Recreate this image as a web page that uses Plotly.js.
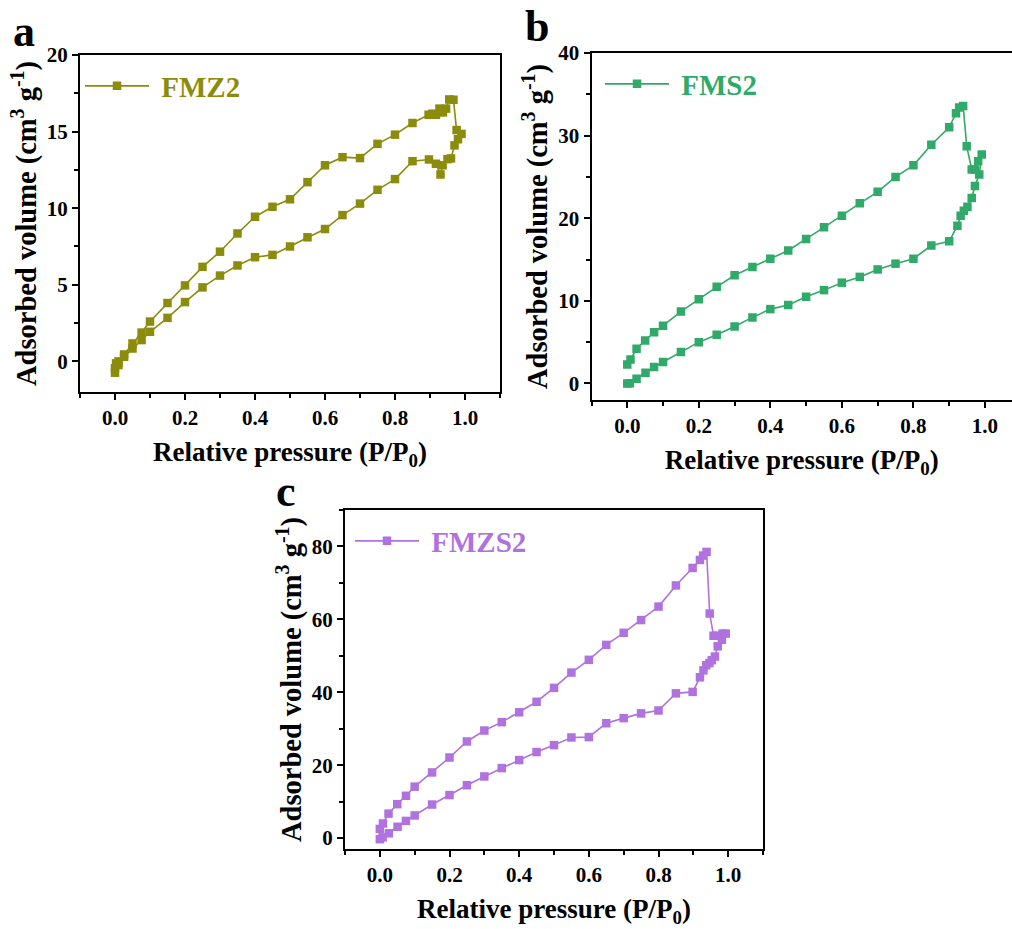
<!DOCTYPE html>
<html>
<head>
<meta charset="utf-8">
<script src="https://cdn.plot.ly/plotly-3.0.1.min.js"></script>
<style>html,body{margin:0;padding:0;background:#fff;}#chart{width:1012px;height:929px;}</style>
</head>
<body>
<div id="chart"></div>
<script>
// ---- Panel a: FMZ2 ----
var aAdsX = [0.000, 0.010, 0.026, 0.050, 0.076, 0.100, 0.150, 0.200, 0.250, 0.300, 0.350, 0.400, 0.450, 0.500, 0.550, 0.600, 0.650, 0.700, 0.750, 0.800, 0.850, 0.897, 0.917, 0.930, 0.936, 0.950, 0.960, 0.970, 0.980, 0.990];
var aAdsY = [-0.74, -0.24, 0.30, 0.84, 1.39, 1.93, 2.84, 3.87, 4.83, 5.60, 6.26, 6.80, 6.95, 7.50, 8.10, 8.64, 9.55, 10.30, 11.20, 11.90, 13.07, 13.18, 12.90, 12.20, 12.80, 13.20, 13.25, 14.10, 14.50, 14.85];
var aDesX = [0.976, 0.967, 0.955, 0.946, 0.937, 0.927, 0.917, 0.907, 0.896, 0.850, 0.800, 0.750, 0.700, 0.650, 0.600, 0.550, 0.500, 0.450, 0.400, 0.350, 0.300, 0.250, 0.200, 0.150, 0.100, 0.076, 0.050, 0.026, 0.010, 0.003, 0.000];
var aDesY = [15.10, 17.08, 17.10, 16.50, 16.25, 16.50, 16.10, 16.17, 16.10, 15.56, 14.80, 14.20, 13.27, 13.33, 12.80, 11.70, 10.58, 10.09, 9.44, 8.35, 7.16, 6.17, 4.96, 3.81, 2.60, 1.88, 1.17, 0.45, 0.00, -0.13, -0.45];

// ---- Panel b: FMS2 ----
var bAdsX = [0.000, 0.007, 0.026, 0.051, 0.075, 0.100, 0.150, 0.200, 0.250, 0.300, 0.350, 0.400, 0.450, 0.500, 0.550, 0.600, 0.650, 0.700, 0.750, 0.800, 0.850, 0.900, 0.923, 0.932, 0.941, 0.951, 0.963, 0.972, 0.984, 0.991];
var bAdsY = [0.0, 0.04, 0.57, 1.3, 2.0, 2.6, 3.8, 5.0, 5.9, 6.9, 8.0, 9.0, 9.5, 10.5, 11.3, 12.2, 12.9, 13.8, 14.5, 15.1, 16.7, 17.2, 19.1, 20.3, 20.9, 21.4, 22.45, 23.9, 25.3, 27.7];
var bDesX = [0.981, 0.972, 0.963, 0.949, 0.939, 0.928, 0.919, 0.900, 0.850, 0.800, 0.750, 0.700, 0.650, 0.600, 0.550, 0.500, 0.450, 0.400, 0.350, 0.300, 0.250, 0.200, 0.150, 0.100, 0.075, 0.050, 0.026, 0.009, 0.000];
var bDesY = [26.9, 25.9, 25.9, 28.7, 33.6, 33.4, 32.7, 31.0, 28.9, 26.4, 25.0, 23.2, 21.8, 20.3, 18.9, 17.5, 16.1, 15.1, 14.1, 13.1, 11.7, 10.2, 8.7, 7.0, 6.2, 5.2, 4.2, 2.9, 2.3];

// ---- Panel c: FMZS2 ----
var cAdsX = [0.000, 0.008, 0.026, 0.051, 0.075, 0.100, 0.150, 0.200, 0.250, 0.300, 0.350, 0.400, 0.450, 0.500, 0.550, 0.600, 0.650, 0.700, 0.750, 0.800, 0.850, 0.898, 0.919, 0.929, 0.937, 0.946, 0.953, 0.962, 0.970, 0.982, 0.993];
var cAdsY = [-0.3, 0.2, 1.3, 3.1, 4.7, 6.2, 9.2, 11.8, 14.5, 16.9, 19.2, 21.4, 23.6, 25.5, 27.6, 27.7, 31.5, 32.9, 34.2, 35.0, 39.7, 40.1, 44.1, 46.0, 47.4, 48.0, 48.8, 49.8, 52.6, 54.4, 56.1];
var cDesX = [0.984, 0.969, 0.958, 0.947, 0.938, 0.928, 0.919, 0.898, 0.850, 0.800, 0.750, 0.700, 0.650, 0.600, 0.550, 0.500, 0.450, 0.400, 0.350, 0.300, 0.250, 0.200, 0.150, 0.100, 0.075, 0.050, 0.025, 0.009, 0.000];
var cDesY = [56.1, 55.5, 55.5, 61.6, 78.5, 77.5, 76.3, 74.1, 69.3, 63.5, 59.8, 56.3, 53.0, 48.9, 45.4, 41.2, 37.4, 34.5, 31.8, 29.5, 26.5, 22.1, 18.0, 14.1, 11.6, 9.3, 6.7, 4.0, 2.5];

var seriesNames = ['FMZ2', 'FMS2', 'FMZS2'];
var seriesColors = ['#8C8C0C', '#2FAA68', '#B072DE'];
var panelLetters = ['a', 'b', 'c'];
var xTickVals = [0, 0.2, 0.4, 0.6, 0.8, 1.0];
var xTickText = ['0.0', '0.2', '0.4', '0.6', '0.8', '1.0'];
var xTitle = 'Relative pressure (P/P<sub>0</sub>)';
var yTitle = 'Adsorbed volume (cm<sup>3</sup> g<sup>-1</sup>)';

var FONT = 'Liberation Serif, Times New Roman, serif';

function mkTrace(xa, ya, xd, yd, i, xax, yax, leg) {
  return {
    x: xa.concat(xd), y: ya.concat(yd),
    type: 'scatter', mode: 'lines+markers',
    name: '\u00a0' + seriesNames[i],
    line: {color: seriesColors[i], width: 1.6},
    marker: {symbol: 'square', size: 8.5, color: seriesColors[i]},
    xaxis: xax, yaxis: yax, legend: leg
  };
}

var traces = [
  mkTrace(aAdsX, aAdsY, aDesX, aDesY, 0, 'x', 'y', 'legend'),
  mkTrace(bAdsX, bAdsY, bDesX, bDesY, 1, 'x2', 'y2', 'legend2'),
  mkTrace(cAdsX, cAdsY, cDesX, cDesY, 2, 'x3', 'y3', 'legend3')
];

var tickFont = {family: FONT, size: 21, color: 'black', weight: 'bold'};
var xTitleFont = {family: FONT, size: 27, color: 'black', weight: 'bold'};
var yTitleFont = {family: FONT, size: 28.5, color: 'black', weight: 'bold'};

function xAxis(domain, range, anchor) {
  return {
    domain: domain, range: range, anchor: anchor,
    tickvals: xTickVals, ticktext: xTickText,
    showline: true, linecolor: 'black', linewidth: 2, mirror: true,
    ticks: 'outside', ticklen: 6, tickwidth: 2, tickcolor: 'black',
    minor: {ticks: 'outside', ticklen: 4, tickwidth: 2, tickcolor: 'black', dtick: 0.1, tick0: 0},
    showgrid: false, zeroline: false, tickfont: tickFont,
    title: {text: xTitle, font: xTitleFont, standoff: 13}
  };
}
function yAxis(domain, range, dtick, anchor, mirror) {
  return {
    domain: domain, range: range, anchor: anchor, dtick: dtick, tick0: 0,
    showline: true, linecolor: 'black', linewidth: 2, mirror: mirror,
    ticks: 'outside', ticklen: 6, tickwidth: 2, tickcolor: 'black',
    minor: {ticks: 'outside', ticklen: 4, tickwidth: 2, tickcolor: 'black', dtick: dtick / 2, tick0: 0},
    showgrid: false, zeroline: false, tickfont: tickFont,
    title: {text: yTitle, font: yTitleFont, standoff: 2}
  };
}

function legendCfg(x, y, i) {
  return {
    x: x, y: y, xanchor: 'left', yanchor: 'middle',
    bgcolor: 'rgba(0,0,0,0)', borderwidth: 0,
    font: {family: FONT, size: 29, color: seriesColors[i], weight: 'bold'},
    itemwidth: 64
  };
}

var W = 1012, H = 929;
var letterFont = {family: FONT, size: 44, color: 'black', weight: 'bold'};
var layout = {
  width: W, height: H,
  margin: {l: 0, r: 0, t: 0, b: 0},
  paper_bgcolor: 'white', plot_bgcolor: 'white',
  showlegend: true,
  xaxis: xAxis([80 / W, 500 / W], [-0.1, 1.1], 'y'),
  yaxis: yAxis([1 - 392 / H, 1 - 55 / H], [-2, 20], 5, 'x', true),
  xaxis2: xAxis([591.5 / W, 1], [-0.1, 1.0756], 'y2'),
  yaxis2: yAxis([1 - 400 / H, 1 - 53 / H], [-2, 40], 10, 'x2', false),
  xaxis3: xAxis([345 / W, 763 / W], [-0.1, 1.1], 'y3'),
  yaxis3: yAxis([1 - 849 / H, 1 - 510 / H], [-3, 90], 20, 'x3', true),
  legend: legendCfg(80 / W, 1 - 86 / H, 0),
  legend2: legendCfg(600 / W, 1 - 84 / H, 1),
  legend3: legendCfg(350 / W, 1 - 541 / H, 2),
  annotations: [
    {text: panelLetters[0], xref: 'paper', yref: 'paper', x: 24 / W, y: 1 - 32 / H, showarrow: false, xanchor: 'center', yanchor: 'middle', font: letterFont},
    {text: panelLetters[1], xref: 'paper', yref: 'paper', x: 537 / W, y: 1 - 26 / H, showarrow: false, xanchor: 'center', yanchor: 'middle', font: letterFont},
    {text: panelLetters[2], xref: 'paper', yref: 'paper', x: 286 / W, y: 1 - 491 / H, showarrow: false, xanchor: 'center', yanchor: 'middle', font: letterFont}
  ]
};

Plotly.newPlot('chart', traces, layout, {displayModeBar: false, staticPlot: true});
</script>
</body>
</html>
